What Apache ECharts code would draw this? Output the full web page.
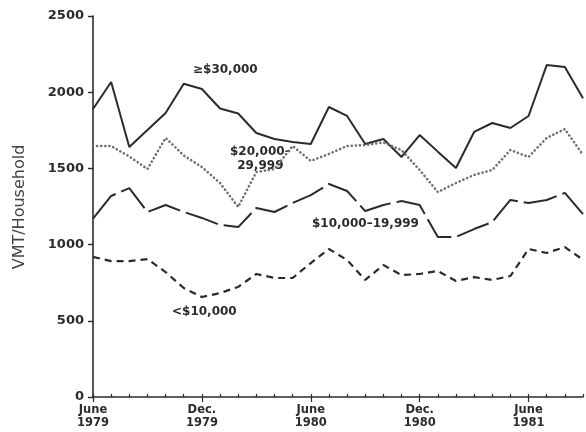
<!DOCTYPE html>
<html>
<head>
<meta charset="utf-8">
<script src="https://cdn.jsdelivr.net/npm/echarts@6/dist/echarts.min.js"></script>
<style>
  html, body { margin: 0; padding: 0; background: #fff; }
  #chart { width: 586px; height: 432px; }
</style>
</head>
<body>
<div id="chart"></div>
<script>
// Monthly observations, June 1979 through September 1981
const months = [
  '1979-06','1979-07','1979-08','1979-09','1979-10','1979-11','1979-12',
  '1980-01','1980-02','1980-03','1980-04','1980-05','1980-06','1980-07',
  '1980-08','1980-09','1980-10','1980-11','1980-12','1981-01','1981-02',
  '1981-03','1981-04','1981-05','1981-06','1981-07','1981-08','1981-09'
];

// Labelled months on the time axis
const tickLabels = {
  '1979-06': 'June\n1979',
  '1979-12': 'Dec.\n1979',
  '1980-06': 'June\n1980',
  '1980-12': 'Dec.\n1980',
  '1981-06': 'June\n1981'
};

const yTicks = [0, 500, 1000, 1500, 2000, 2500];

// Vehicle miles travelled per household, by household income
const inc30kPlus = [
  1890, 2067, 1640, 1752, 1863, 2055, 2021, 1893, 1860, 1732,
  1693, 1673, 1660, 1903, 1844, 1660, 1693, 1575, 1719, 1610,
  1503, 1739, 1798, 1765, 1844, 2178, 2165, 1960
];
const inc20to30k = [
  1647, 1647, 1578, 1496, 1700, 1585, 1509, 1404, 1247, 1476,
  1496, 1647, 1549, 1595, 1647, 1653, 1670, 1620, 1490, 1345,
  1404, 1457, 1490, 1621, 1575, 1700, 1758, 1588
];
const inc10to20k = [
  1170, 1319, 1371, 1214, 1260, 1214, 1175, 1129, 1115, 1240,
  1214, 1273, 1325, 1398, 1352, 1220, 1260, 1286, 1260, 1050,
  1050, 1102, 1148, 1293, 1273, 1293, 1339, 1200
];
const incUnder10k = [
  919, 892, 892, 905, 820, 715, 656, 682, 722, 807,
  781, 781, 879, 971, 899, 768, 866, 800, 807, 827,
  761, 787, 768, 794, 971, 945, 984, 900
];

const seriesLabels = ['\u2265$30,000', '$20,000\u2013\n29,999', '$10,000\u201319,999', '<$10,000'];

const ink = '#2b2b2b';
const boldFont = 'DejaVu Sans';

const chart = echarts.init(document.getElementById('chart'), null, { renderer: 'canvas' });

function lineSeries(name, data, style) {
  return {
    name: name,
    type: 'line',
    data: data,
    symbol: 'none',
    smooth: false,
    animation: false,
    lineStyle: Object.assign({ color: ink, width: 2 }, style),
    z: 3
  };
}

function noteText(text, x, y, align) {
  return {
    type: 'text',
    left: x,
    top: y,
    style: {
      text: text,
      fill: ink,
      font: 'bold 12px "' + boldFont + '"',
      textAlign: align || 'left',
      lineHeight: 14
    }
  };
}

chart.setOption({
  backgroundColor: '#ffffff',
  animation: false,
  grid: { left: 93, right: 2, top: 16, bottom: 35 },
  xAxis: [
    {
      type: 'category',
      data: months,
      boundaryGap: false,
      axisLine: { show: true, lineStyle: { color: ink, width: 1.6 } },
      axisTick: { show: true, inside: true, interval: 0, length: 3, lineStyle: { color: ink, width: 1.2 } },
      axisLabel: {
        show: true,
        interval: 0,
        margin: 7,
        color: ink,
        fontFamily: boldFont,
        fontWeight: 'bold',
        fontSize: 11.5,
        lineHeight: 13,
        formatter: function (v) { return tickLabels[v] || ''; }
      },
      splitLine: { show: false }
    },
    {
      // longer ticks at the half-year marks
      type: 'category',
      data: months,
      boundaryGap: false,
      position: 'bottom',
      axisLine: { show: false },
      axisTick: { show: true, interval: 5, length: 5, lineStyle: { color: ink, width: 1.2 } },
      axisLabel: { show: false },
      splitLine: { show: false }
    }
  ],
  yAxis: {
    type: 'value',
    min: yTicks[0],
    max: yTicks[yTicks.length - 1],
    interval: 500,
    axisLine: { show: true, lineStyle: { color: ink, width: 1.6 } },
    axisTick: { show: true, length: 5, lineStyle: { color: ink, width: 1.4 } },
    axisLabel: {
      margin: 9,
      color: ink,
      fontFamily: boldFont,
      fontWeight: 'bold',
      fontSize: 13,
      formatter: function (v) { return String(v); }
    },
    splitLine: { show: false }
  },
  series: [
    lineSeries(seriesLabels[0], inc30kPlus, { type: 'solid', width: 2 }),
    lineSeries(seriesLabels[1], inc20to30k, { type: [0.1, 4], cap: 'round', width: 2.6, color: '#6e6e6e' }),
    lineSeries(seriesLabels[2], inc10to20k, { type: [34, 6], width: 2 }),
    lineSeries(seriesLabels[3], incUnder10k, { type: [7, 5], width: 2.2 })
  ],
  graphic: [
    {
      type: 'text',
      x: 20,
      y: 207,
      rotation: Math.PI / 2,
      style: {
        text: 'VMT/Household',
        fill: '#444',
        font: '16px "DejaVu Sans"',
        textAlign: 'center',
        textVerticalAlign: 'middle'
      }
    },
    noteText(seriesLabels[0], 193, 63),
    noteText(seriesLabels[1], 230, 145, 'center'),
    noteText(seriesLabels[2], 312, 217),
    noteText(seriesLabels[3], 172, 305)
  ]
});
</script>
</body>
</html>
